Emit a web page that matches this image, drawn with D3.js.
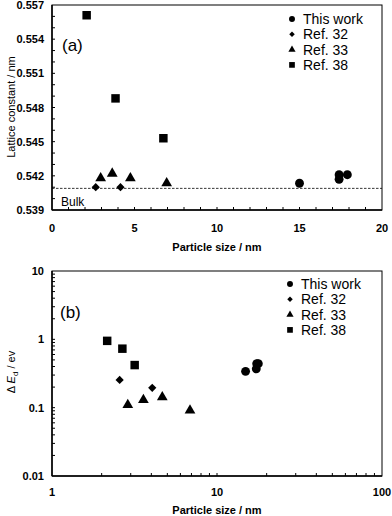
<!DOCTYPE html>
<html>
<head>
<meta charset="utf-8">
<script src="https://cdn.jsdelivr.net/npm/d3@7"></script>
<style>
body { margin: 0; background: #fff; }
text { font-family: Arial, "Liberation Sans", sans-serif; }
</style>
</head>
<body>
<script>
// panel (a) - lattice constant vs size
var seriesNames = ["This work", "Ref. 32", "Ref. 33", "Ref. 38"];
var aThisX = [15.0, 17.4, 17.4, 17.9];
var aThisY = [0.54135, 0.5421, 0.5417, 0.5421];
var a32X = [2.65, 4.15];
var a32Y = [0.5410, 0.5410];
var a33X = [2.95, 3.65, 4.75, 6.95];
var a33Y = [0.5418, 0.5422, 0.5418, 0.54135];
var a38X = [2.1, 3.85, 6.75];
var a38Y = [0.5561, 0.5488, 0.5453];
var bulkA = 0.5409;
var aXTicks = [0, 5, 10, 15, 20];
var aYTicks = [0.539, 0.542, 0.545, 0.548, 0.551, 0.554, 0.557];

// panel (b) - delta Ed vs size (log-log)
var bThisX = [14.9, 17.3, 17.4, 17.8];
var bThisY = [0.34, 0.37, 0.44, 0.44];
var b32X = [2.57, 4.05];
var b32Y = [0.255, 0.195];
var b33X = [2.88, 3.58, 4.66, 6.86];
var b33Y = [0.11, 0.13, 0.142, 0.091];
var b38X = [2.16, 2.67, 3.17];
var b38Y = [0.95, 0.73, 0.42];
var bXTicks = [1, 10, 100];
var bYTicks = [0.01, 0.1, 1, 10];

var width = 392, height = 516;
var svg = d3.select("body").append("svg")
    .attr("width", width)
    .attr("height", height);

// diamond = square turned 45 deg
var symbols = [d3.symbolCircle, d3.symbolSquare, d3.symbolTriangle, d3.symbolSquare];
var symSizes = [62, 34, 50, 72];
var symRot = [0, 45, 0, 0];

function drawPoints(g, x, y, xs, ys, k) {
  var pts = xs.map(function(v, i) { return [v, ys[i]]; });
  g.selectAll(".p" + k)
    .data(pts)
    .enter().append("path")
      .attr("transform", function(d) { return "translate(" + x(d[0]) + "," + y(d[1]) + ") rotate(" + symRot[k] + ")"; })
      .attr("d", d3.symbol().type(symbols[k]).size(symSizes[k]))
      .attr("fill", "#000");
}

function drawLegend(g, lx, ly) {
  seriesNames.forEach(function(s, i) {
    g.append("path")
      .attr("transform", "translate(" + lx + "," + (ly + i * 15.3) + ") rotate(" + symRot[i] + ")")
      .attr("d", d3.symbol().type(symbols[i]).size(symSizes[i] * 0.45))
      .attr("fill", "#000");
    g.append("text")
      .attr("x", lx + 11)
      .attr("y", ly + i * 15.3 + 5)
      .attr("font-size", 14)
      .text(s);
  });
}

function frame(g, x0, x1, y0, y1) {
  g.append("rect")
    .attr("x", x0).attr("y", y0)
    .attr("width", x1 - x0).attr("height", y1 - y0)
    .attr("fill", "none").attr("stroke", "#000").attr("stroke-width", 1);
  g.append("line").attr("x1", x0).attr("x2", x0).attr("y1", y0).attr("y2", y1)
    .attr("stroke", "#000").attr("stroke-width", 1.5);
  g.append("line").attr("x1", x0).attr("x2", x1).attr("y1", y1).attr("y2", y1)
    .attr("stroke", "#000").attr("stroke-width", 1.5);
}

// ---------- panel (a) ----------
var ax = d3.scaleLinear().domain([0, 20]).range([52, 382]);
var ay = d3.scaleLinear().domain([0.539, 0.557]).range([210, 5]);
var ga = svg.append("g");

frame(ga, 52, 382, 5, 210);

ga.selectAll(".axt").data(d3.range(1, 20)).enter().append("line")
  .attr("x1", function(d) { return ax(d); }).attr("x2", function(d) { return ax(d); })
  .attr("y1", 210).attr("y2", 207)
  .attr("stroke", "#000");
ga.selectAll(".ayt").data(d3.range(1, 18)).enter().append("line")
  .attr("x1", 52).attr("x2", 55)
  .attr("y1", function(d) { return ay(0.539 + d * 0.001); })
  .attr("y2", function(d) { return ay(0.539 + d * 0.001); })
  .attr("stroke", "#000");

ga.selectAll(".axl").data(aXTicks).enter().append("text")
  .attr("x", function(d) { return ax(d); })
  .attr("y", 232)
  .attr("text-anchor", "middle")
  .attr("font-size", 11).attr("font-weight", "bold")
  .text(function(d) { return d; });
ga.selectAll(".ayl").data(aYTicks).enter().append("text")
  .attr("x", 44)
  .attr("y", function(d) { return ay(d) + 4; })
  .attr("text-anchor", "end")
  .attr("font-size", 11).attr("font-weight", "bold")
  .text(function(d) { return d3.format(".3f")(d); });

ga.append("text").attr("x", 217).attr("y", 251)
  .attr("text-anchor", "middle").attr("font-size", 11).attr("font-weight", "bold")
  .text("Particle size / nm");
ga.append("text")
  .attr("transform", "translate(15,107) rotate(-90)")
  .attr("text-anchor", "middle").attr("font-size", 11)
  .text("Lattice constant / nm");

ga.append("line")
  .attr("x1", 52).attr("x2", 382)
  .attr("y1", ay(bulkA)).attr("y2", ay(bulkA))
  .attr("stroke", "#000").attr("stroke-width", 0.8)
  .attr("stroke-dasharray", "2.5,1.5");
ga.append("text").attr("x", 61).attr("y", 206).attr("font-size", 12).text("Bulk");
ga.append("text").attr("x", 62).attr("y", 51).attr("font-size", 17).text("(a)");

drawPoints(ga, ax, ay, aThisX, aThisY, 0);
drawPoints(ga, ax, ay, a32X, a32Y, 1);
drawPoints(ga, ax, ay, a33X, a33Y, 2);
drawPoints(ga, ax, ay, a38X, a38Y, 3);
drawLegend(ga, 292, 19);

// ---------- panel (b) ----------
var bx = d3.scaleLog().domain([1, 100]).range([52, 382]);
var by = d3.scaleLog().domain([0.01, 10]).range([476, 271]);
var gb = svg.append("g");

frame(gb, 52, 382, 271, 476);

var xMinor = [];
[1, 10].forEach(function(dec) { for (var m = 2; m <= 9; m++) xMinor.push(dec * m); });
xMinor.push(10);
gb.selectAll(".bxt").data(xMinor).enter().append("line")
  .attr("x1", function(d) { return bx(d); }).attr("x2", function(d) { return bx(d); })
  .attr("y1", 476).attr("y2", 473)
  .attr("stroke", "#000");
var yMinor = [];
[0.01, 0.1, 1].forEach(function(dec) { for (var m = 2; m <= 9; m++) yMinor.push(dec * m); });
yMinor.push(0.1, 1);
gb.selectAll(".byt").data(yMinor).enter().append("line")
  .attr("x1", 52).attr("x2", 55)
  .attr("y1", function(d) { return by(d); }).attr("y2", function(d) { return by(d); })
  .attr("stroke", "#000");

gb.selectAll(".bxl").data(bXTicks).enter().append("text")
  .attr("x", function(d) { return bx(d); })
  .attr("y", 496)
  .attr("text-anchor", "middle")
  .attr("font-size", 11).attr("font-weight", "bold")
  .text(function(d) { return d; });
gb.selectAll(".byl").data(bYTicks).enter().append("text")
  .attr("x", 44)
  .attr("y", function(d) { return by(d) + 4; })
  .attr("text-anchor", "end")
  .attr("font-size", 11).attr("font-weight", "bold")
  .text(function(d) { return d; });

gb.append("text").attr("x", 217).attr("y", 514)
  .attr("text-anchor", "middle").attr("font-size", 11).attr("font-weight", "bold")
  .text("Particle size / nm");
var yt = gb.append("text")
  .attr("transform", "translate(15,372) rotate(-90)")
  .attr("text-anchor", "middle").attr("font-size", 11);
yt.append("tspan").text("\u0394 ");
yt.append("tspan").attr("font-style", "italic").text("E");
yt.append("tspan").attr("font-size", 8).attr("dy", 3).text("d");
yt.append("tspan").attr("dy", -3).text(" / ev");

gb.append("text").attr("x", 60).attr("y", 318).attr("font-size", 17).text("(b)");

drawPoints(gb, bx, by, bThisX, bThisY, 0);
drawPoints(gb, bx, by, b32X, b32Y, 1);
drawPoints(gb, bx, by, b33X, b33Y, 2);
drawPoints(gb, bx, by, b38X, b38Y, 3);
drawLegend(gb, 290, 284);
</script>
</body>
</html>
